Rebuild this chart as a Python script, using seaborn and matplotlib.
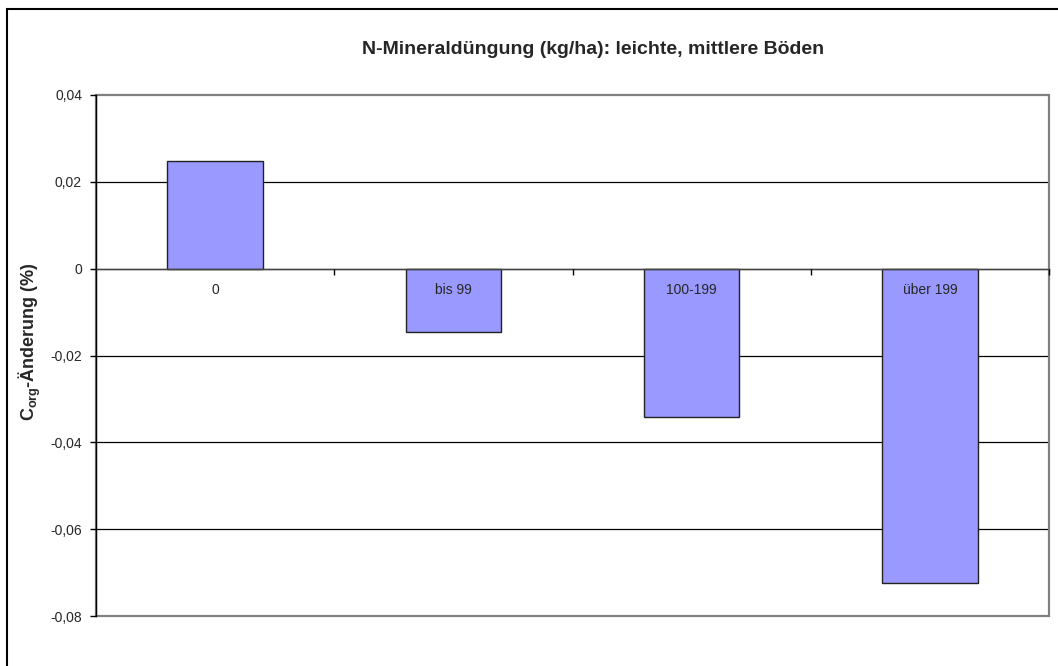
import numpy as np
import pandas as pd
import seaborn as sns
import matplotlib.pyplot as plt
import matplotlib.patches as patches
from matplotlib.ticker import FuncFormatter, FixedLocator

# Data
categories = ["0", "bis 99", "100-199", "über 199"]
values = [0.0249, -0.0145, -0.0341, -0.0724]
y_ticks = [-0.08, -0.06, -0.04, -0.02, 0.0, 0.02, 0.04]

title = "N-Mineraldüngung (kg/ha): leichte, mittlere Böden"
ylabel = r"$\mathbf{C_{org}}$-Änderung (%)"

sns.set_style("white")
plt.rcParams['font.family'] = ['Liberation Sans', 'DejaVu Sans']
plt.rcParams['mathtext.fontset'] = 'custom'
plt.rcParams['mathtext.rm'] = 'Liberation Sans'
plt.rcParams['mathtext.bf'] = 'Liberation Sans:bold'

df = pd.DataFrame({"kat": categories, "wert": values})

fig = plt.figure(figsize=(10.58, 6.66), dpi=100)
ax = fig.add_axes([96 / 1058, 1 - 616 / 666, (1049 - 96) / 1058, (616 - 95) / 666])

sns.barplot(data=df, x="kat", y="wert", ax=ax, color="#9999FF", width=0.4,
            saturation=1, edgecolor="#222222", linewidth=1.0, zorder=2)

ax.set_xlim(-0.5, len(categories) - 0.5)
ax.set_ylim(min(y_ticks), max(y_ticks))
ax.set_yticks(y_ticks)
ax.yaxis.set_major_formatter(FuncFormatter(
    lambda v, p: "0" if abs(v) < 1e-9 else f"{v:.2f}".replace(".", ",")))

# gridlines
for t in y_ticks[1:-1]:
    ax.axhline(t, color="black", linewidth=0.9, zorder=1)

# spines: left black, bottom at zero, box in gray
for s in ["top", "right"]:
    ax.spines[s].set_visible(False)
ax.spines["left"].set_color("black")
ax.spines["left"].set_linewidth(1.0)
ax.spines["left"].set_zorder(4)
ax.spines["bottom"].set_position(("data", 0))
ax.spines["bottom"].set_color("#444444")
ax.spines["bottom"].set_linewidth(1.0)
ax.spines["bottom"].set_zorder(4)
ax.add_patch(patches.Rectangle((0, 0), 1, 1, transform=ax.transAxes, fill=False,
                               edgecolor="#808080", linewidth=1.6, zorder=1.5, clip_on=False))

ax.tick_params(axis="y", direction="out", length=4, width=1, color="black",
               labelsize=10, pad=6, left=True)
ax.tick_params(axis="x", which="major", length=0, labelsize=10, pad=10, bottom=True)
ax.xaxis.set_minor_locator(FixedLocator(np.arange(0.5, len(categories), 1.0)))
ax.tick_params(axis="x", which="minor", direction="out", length=4, width=1,
               color="black", bottom=True)
ax.xaxis.set_zorder(5)
ax.yaxis.set_zorder(5)

ax.set_xlabel("")
ax.set_ylabel(ylabel, fontsize=13, fontweight="bold")
ax.yaxis.set_label_coords(-0.056, 0.526)

fig.text(593 / 1058, 1 - 50 / 666, title, ha="center", va="center",
         fontsize=14, fontweight="bold")

# outer chart frame (cropped on the right and bottom)
fig.patches.append(patches.Rectangle((7 / 1058, -0.5), 2, 1.5 - 9 / 666,
                                     transform=fig.transFigure, fill=False,
                                     edgecolor="black", linewidth=1.5))

fig.savefig("out.png", dpi=100)
